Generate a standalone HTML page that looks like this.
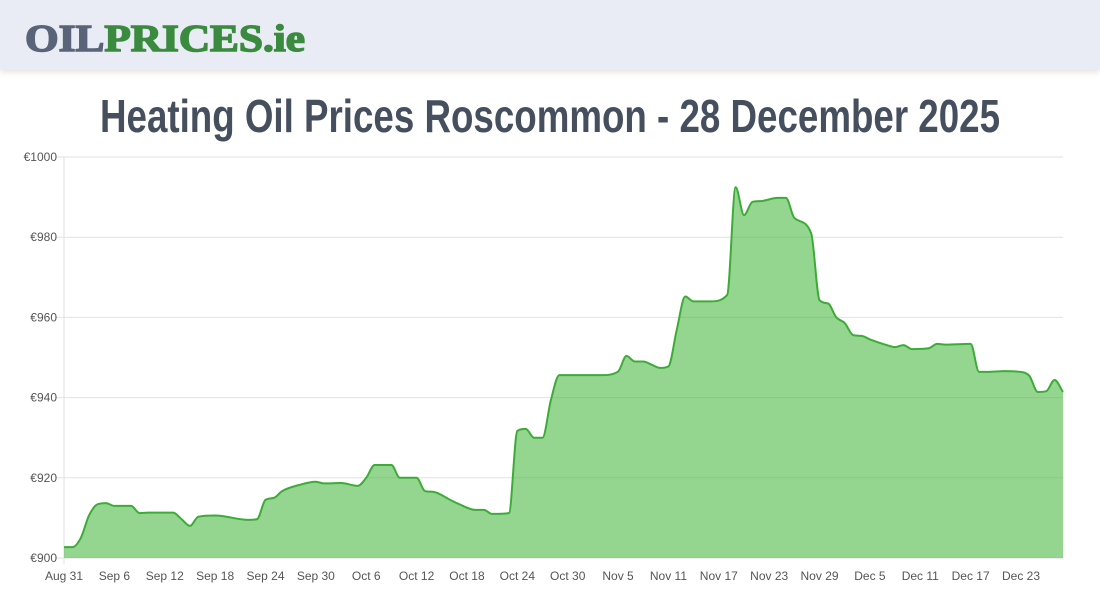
<!DOCTYPE html>
<html><head><meta charset="utf-8"><style>
html,body{margin:0;padding:0;width:1100px;height:600px;background:#fff;overflow:hidden;font-family:"Liberation Sans",sans-serif}
#hdr{position:absolute;left:0;top:0;width:1100px;height:70px;background:#e9ecf4;box-shadow:0 2px 6px rgba(0,0,0,0.12)}
svg{position:absolute;left:0;top:0}
</style></head><body>
<div id="hdr"></div>
<svg id="chart" width="1100" height="600">
<text x="25" y="51" font-family="Liberation Serif, serif" font-weight="bold" font-size="38" textLength="280" lengthAdjust="spacingAndGlyphs"><tspan fill="#5a6478" stroke="#5a6478" stroke-width="1.5">OIL</tspan><tspan fill="#3a8a3f" stroke="#3a8a3f" stroke-width="1.5">PRICES.ie</tspan></text>
<text x="550" y="132" text-anchor="middle" font-family="Liberation Sans, sans-serif" font-weight="bold" font-size="46" fill="#454f5e" textLength="900" lengthAdjust="spacingAndGlyphs">Heating Oil Prices Roscommon - 28 December 2025</text>
<g id="grid"></g><g id="plot"></g><g id="axes"></g>
</svg>
<script>
const days=[0,1,2,3,4,5,6,8,9,10,13,14,15,16,18,22,23,24,25,26,28,30,31,33,35,36,37,39,40,42,43,44,46,47,49,50,51,53,54,55,56,57,58,59,60,64,66,67,68,69,70,71,72,73,74,75,77,79,80,81,82,83,85,86,87,89,90,91,92,93,94,95,96,98,99,100,101,103,104,105,108,109,110,112,114,115,116,117,118,119];
const prices=[902.7,902.7,905,910.7,913.4,913.7,913,913,911.2,911.3,911.3,909.7,908,910.3,910.6,909.5,909.7,914.5,915,916.7,918.2,919,918.6,918.7,918,920,923.2,923.2,920,920,916.7,916.5,914.5,913.5,912,912,911,911.2,931.7,932.2,930,930,939.4,945.6,945.6,945.6,946.5,950.4,949,949,948.2,947.4,947.8,957,965.2,964,964,965.6,992.5,985.5,988.8,989,989.8,989.8,984.8,981,964.3,963.5,960,958.6,955.6,955.4,954.5,953.1,952.6,953.1,952.1,952.3,953.4,953.2,953.4,946.4,946.4,946.6,946.4,945.4,941.4,941.6,944.4,941.4];
const yTicks=[900,920,940,960,980,1000];
const xTickLabels=["Aug 31","Sep 6","Sep 12","Sep 18","Sep 24","Sep 30","Oct 6","Oct 12","Oct 18","Oct 24","Oct 30","Nov 5","Nov 11","Nov 17","Nov 23","Nov 29","Dec 5","Dec 11","Dec 17","Dec 23"];
const X0=64,X1=1063,Y0=558,Y1=157,DMAX=119,VMIN=900,VMAX=1000;
const xs=d=>X0+(d/DMAX)*(X1-X0);
const ys=v=>Y0-(v-VMIN)/(VMAX-VMIN)*(Y0-Y1);
const NS='http://www.w3.org/2000/svg';
function mk(tag,attrs,parent){const e=document.createElementNS(NS,tag);for(const k in attrs)e.setAttribute(k,attrs[k]);parent.appendChild(e);return e;}
const grid=document.getElementById('grid'),axes=document.getElementById('axes'),plot=document.getElementById('plot');
yTicks.forEach(v=>{
  const l=mk('line',{x1:55,x2:X1,y1:ys(v),y2:ys(v),stroke:'#e2e2e2','stroke-width':1},grid);
  
  
  const t=mk('text',{x:57,y:ys(v)+4,'text-anchor':'end','font-size':12,fill:'#555'},axes);
  t.textContent='€'+v;
  
  
});
mk('line',{x1:X0,x2:X0,y1:Y1,y2:Y0+6,stroke:'#e2e2e2'},grid);
xTickLabels.forEach((s,i)=>{
  const x=xs(i*6);
  const t=mk('text',{x:x,y:580,'text-anchor':'middle','font-size':12,fill:'#555'},axes);
  t.textContent=s;
  
  
});
const pts=days.map((d,i)=>[xs(d),ys(prices[i])]);
const n=pts.length,m=new Array(n),dk=[];
for(let i=0;i<n-1;i++)dk.push((pts[i+1][1]-pts[i][1])/(pts[i+1][0]-pts[i][0]));
m[0]=dk[0];m[n-1]=dk[n-2];
for(let i=1;i<n-1;i++){m[i]=(dk[i-1]*dk[i]<=0)?0:(dk[i-1]+dk[i])/2;}
for(let i=0;i<n-1;i++){if(dk[i]===0){m[i]=0;m[i+1]=0;continue;}const a=m[i]/dk[i],b=m[i+1]/dk[i],h=a*a+b*b;if(h>9){const t=3/Math.sqrt(h);m[i]=t*a*dk[i];m[i+1]=t*b*dk[i];}}
let d='M'+pts[0][0]+','+pts[0][1];
for(let i=0;i<n-1;i++){const h=(pts[i+1][0]-pts[i][0])/3;d+=' C'+(pts[i][0]+h)+','+(pts[i][1]+m[i]*h)+' '+(pts[i+1][0]-h)+','+(pts[i+1][1]-m[i+1]*h)+' '+pts[i+1][0]+','+pts[i+1][1];}
const area=mk('path',{d:d+' L'+X1+','+Y0+' L'+X0+','+Y0+' Z',fill:'rgba(76,185,68,0.6)'},plot);


const line=mk('path',{d:d,fill:'none',stroke:'#3cac37','stroke-width':2},plot);


</script>
</body></html>
